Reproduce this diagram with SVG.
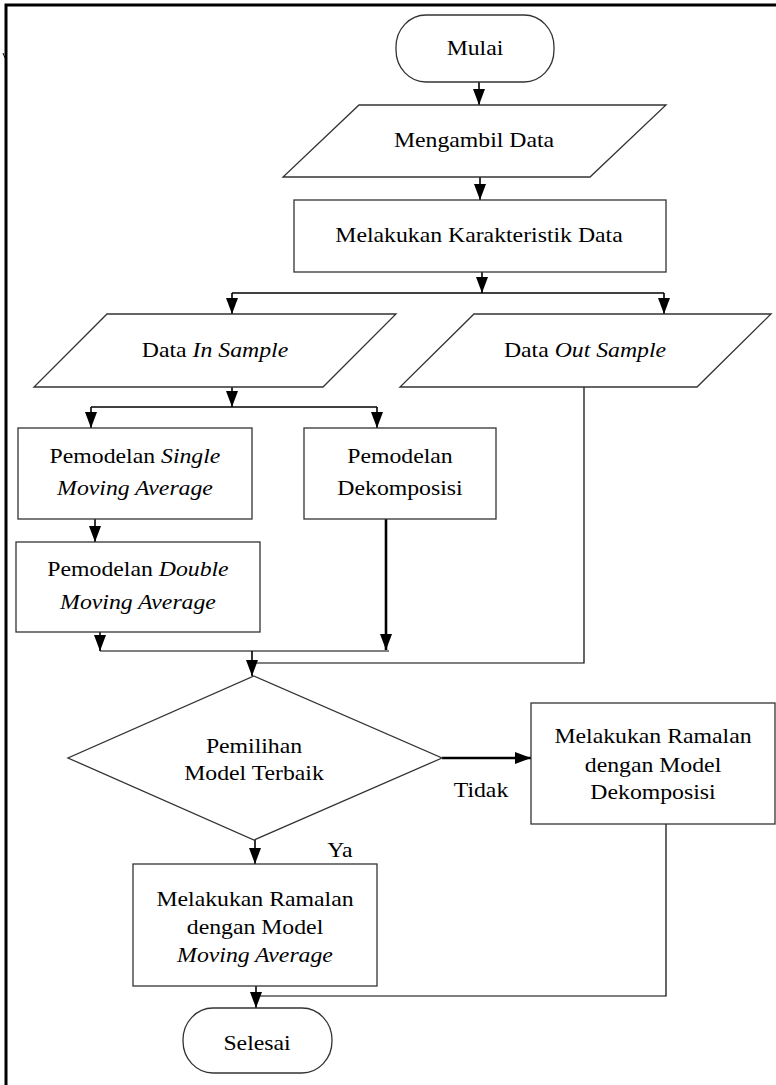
<svg xmlns="http://www.w3.org/2000/svg" width="776" height="1085" viewBox="0 0 776 1085">
<style>
.s{fill:#fff;stroke:#333;stroke-width:1.3}
.c{fill:none;stroke:#000;stroke-width:1.6}
.ct{fill:none;stroke:#000;stroke-width:1.2}
.ck{fill:none;stroke:#000;stroke-width:2.6}
text{font-family:"Liberation Serif","Times New Roman",serif;font-size:22px;fill:#000;text-anchor:middle}
.i{font-style:italic}
</style>
<defs>
<marker id="a" viewBox="0 0 16 12" markerWidth="16" markerHeight="12" refX="16" refY="6" orient="auto" markerUnits="userSpaceOnUse">
<path d="M0,0 L16,6 L0,12 z" fill="#000"/>
</marker>
</defs>
<rect width="776" height="1085" fill="#fff"/>
<g id="border">
<path d="M6,1085 V5 H776" fill="none" stroke="#000" stroke-width="3"/>
<path d="M3,53 L5,58" stroke="#000" stroke-width="1"/>
</g>
<g id="connectors">
<path class="c" d="M479,82 V105" marker-end="url(#a)"/>
<path class="c" d="M480,177 V200" marker-end="url(#a)"/>
<path class="c" d="M482,272 V293" marker-end="url(#a)"/>
<path class="c" d="M232,293 H664"/>
<path class="c" d="M232,293 V314" marker-end="url(#a)"/>
<path class="c" d="M664,293 V314" marker-end="url(#a)"/>
<path class="c" d="M232,387 V407" marker-end="url(#a)"/>
<path class="c" d="M91,407 H377"/>
<path class="c" d="M91,407 V428" marker-end="url(#a)"/>
<path class="c" d="M377,407 V428" marker-end="url(#a)"/>
<path class="c" d="M95,519 V542" marker-end="url(#a)"/>
<path class="c" d="M100,632 V651" marker-end="url(#a)"/>
<path class="ck" d="M386,519 V650" marker-end="url(#a)"/>
<path class="ct" d="M100,651 H389"/>
<path class="c" d="M252,651 V676" marker-end="url(#a)"/>
<path class="ct" d="M584,387 V663 H252"/>
<path class="ck" d="M442,758 H531" marker-end="url(#a)"/>
<path class="c" d="M255,840 V864" marker-end="url(#a)"/>
<path class="ct" d="M666,824 V996 H256"/>
<path class="c" d="M256,986 V1008" marker-end="url(#a)"/>
<text transform="translate(481,797) scale(1.08,1)">Tidak</text>
<text transform="translate(340,857) scale(1.08,1)">Ya</text>
</g>
<g id="mulai">
<rect class="s" x="396" y="15" width="158" height="67" rx="30" ry="32"/>
<text transform="translate(475,55) scale(1.08,1)">Mulai</text>
</g>
<g id="mengambil">
<polygon class="s" points="359,105 666,105 590,177 283,177"/>
<text transform="translate(474,147) scale(1.08,1)">Mengambil Data</text>
</g>
<g id="karakteristik">
<rect class="s" x="294" y="200" width="372" height="72"/>
<text transform="translate(479,242) scale(1.08,1)">Melakukan Karakteristik Data</text>
</g>
<g id="data-in">
<polygon class="s" points="107,314 396,314 323,387 34,387"/>
<text transform="translate(215,357) scale(1.08,1)">Data <tspan class="i">In Sample</tspan></text>
</g>
<g id="data-out">
<polygon class="s" points="474,314 771,314 697,387 400,387"/>
<text transform="translate(585,357) scale(1.08,1)">Data <tspan class="i">Out Sample</tspan></text>
</g>
<g id="single">
<rect class="s" x="18" y="428" width="234" height="91"/>
<text transform="translate(135,463) scale(1.08,1)">Pemodelan <tspan class="i">Single</tspan></text>
<text class="i" transform="translate(135,495) scale(1.08,1)">Moving Average</text>
</g>
<g id="dekomposisi">
<rect class="s" x="304" y="428" width="192" height="91"/>
<text transform="translate(400,463) scale(1.08,1)">Pemodelan</text>
<text transform="translate(400,495) scale(1.08,1)">Dekomposisi</text>
</g>
<g id="double">
<rect class="s" x="16" y="542" width="244" height="90"/>
<text transform="translate(138,576) scale(1.08,1)">Pemodelan <tspan class="i">Double</tspan></text>
<text class="i" transform="translate(138,609) scale(1.08,1)">Moving Average</text>
</g>
<g id="pemilihan">
<polygon class="s" points="254,676 442,758 254,840 68,758"/>
<text transform="translate(254,753) scale(1.08,1)">Pemilihan</text>
<text transform="translate(254,780) scale(1.08,1)">Model Terbaik</text>
</g>
<g id="ramalan-dekomposisi">
<rect class="s" x="531" y="703" width="244" height="121"/>
<text transform="translate(653,743) scale(1.08,1)">Melakukan Ramalan</text>
<text transform="translate(653,772) scale(1.08,1)">dengan Model</text>
<text transform="translate(653,799) scale(1.08,1)">Dekomposisi</text>
</g>
<g id="ramalan-ma">
<rect class="s" x="133" y="864" width="244" height="122"/>
<text transform="translate(255,906) scale(1.08,1)">Melakukan Ramalan</text>
<text transform="translate(255,934) scale(1.08,1)">dengan Model</text>
<text class="i" transform="translate(255,962) scale(1.08,1)">Moving Average</text>
</g>
<g id="selesai">
<rect class="s" x="183" y="1008" width="149" height="65" rx="30" ry="32"/>
<text transform="translate(257,1050) scale(1.08,1)">Selesai</text>
</g>
</svg>
